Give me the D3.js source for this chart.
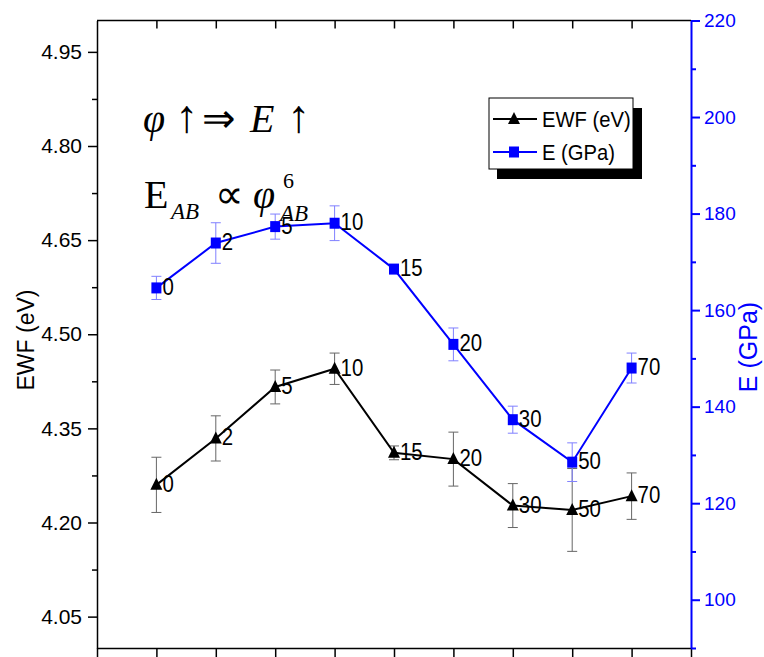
<!DOCTYPE html>
<html>
<head>
<meta charset="utf-8">
<script src="https://cdn.jsdelivr.net/npm/d3@7"></script>
<style>
  body { margin: 0; background: #fff; }
  svg { display: block; }
</style>
</head>
<body>
<svg id="chart" width="764" height="657"></svg>
<script>
const groups = ['0', '2', '5', '10', '15', '20', '30', '50', '70'];
const ewf = [4.260, 4.334, 4.416, 4.445, 4.311, 4.301, 4.227, 4.220, 4.242];
const ewfErr = [0.044, 0.036, 0.027, 0.025, 0.011, 0.043, 0.035, 0.066, 0.037];
const modulus = [164.6, 173.9, 177.3, 178.0, 168.5, 152.9, 137.3, 128.5, 148.0];
const modulusErr = [2.4, 4.2, 2.6, 3.6, 0.4, 3.4, 2.8, 4.0, 3.1];
const ewfTicks = [4.05, 4.20, 4.35, 4.50, 4.65, 4.80, 4.95];
const ewfMinor = [4.125, 4.275, 4.425, 4.575, 4.725, 4.875];
const eTicks = [100, 120, 140, 160, 180, 200, 220];
const eMinor = [90, 110, 130, 150, 170, 190, 210];

const sans = 'Liberation Sans, Arial, sans-serif';
const serif = 'Liberation Serif, Times New Roman, serif';
const blue = '#0000ff';

const svg = d3.select('#chart');

const x = d3.scaleLinear().domain([-1, 9]).range([97, 691]);
const yL = d3.scaleLinear().domain([4.0, 5.0]).range([648, 20.5]);
const yR = d3.scaleLinear().domain([90, 220]).range([648, 20.5]);

const idx = groups.map((_, i) => i);

// frame top
svg.append('line')
  .attr('x1', x(-1)).attr('x2', x(9))
  .attr('y1', yL(5)).attr('y2', yL(5))
  .attr('stroke', '#000').attr('stroke-width', 1.5);

// top inward ticks
svg.append('g')
  .attr('transform', `translate(0,${yL(5)})`)
  .call(d3.axisBottom(x).tickValues(idx).tickSize(8).tickFormat(''))
  .call(g => g.select('.domain').remove())
  .call(g => g.selectAll('line').attr('stroke-width', 1.5));

// bottom axis
svg.append('g')
  .attr('transform', `translate(0,${yL(4)})`)
  .call(d3.axisBottom(x).tickValues(d3.range(-1, 10)).tickSize(9).tickSizeOuter(0).tickFormat(''))
  .call(g => g.selectAll('line, path').attr('stroke-width', 1.5));

// left axis
const left = svg.append('g')
  .attr('transform', `translate(${x(-1)},0)`);
left.call(d3.axisLeft(yL).tickValues(ewfTicks).tickSize(9).tickSizeOuter(0)
    .tickPadding(6).tickFormat(d3.format('.2f')))
  .call(g => g.selectAll('line, path').attr('stroke-width', 1.5))
  .call(g => g.selectAll('text').attr('font-family', sans).attr('font-size', 21).attr('fill', '#000'));
left.append('g')
  .call(d3.axisLeft(yL).tickValues(ewfMinor).tickSize(5).tickFormat(''))
  .call(g => g.select('.domain').remove())
  .call(g => g.selectAll('line').attr('stroke-width', 1.5));

// right axis
const right = svg.append('g')
  .attr('transform', `translate(${x(9)},0)`);
right.call(d3.axisRight(yR).tickValues(eTicks).tickSize(9).tickSizeOuter(0).tickPadding(4))
  .call(g => g.selectAll('line, path').attr('stroke', blue).attr('stroke-width', 2))
  .call(g => g.selectAll('text').attr('font-family', sans).attr('font-size', 19).attr('fill', blue));
right.append('g')
  .call(d3.axisRight(yR).tickValues(eMinor).tickSize(5).tickFormat(''))
  .call(g => g.select('.domain').remove())
  .call(g => g.selectAll('line').attr('stroke', blue).attr('stroke-width', 2));

// axis titles
svg.append('text')
  .attr('transform', 'translate(26,340) rotate(-90)')
  .attr('text-anchor', 'middle').attr('dominant-baseline', 'central')
  .attr('font-family', sans).attr('font-size', 23)
  .text('EWF (eV)');
svg.append('text')
  .attr('transform', 'translate(748,347) rotate(-90)')
  .attr('text-anchor', 'middle').attr('dominant-baseline', 'central')
  .attr('font-family', sans).attr('font-size', 25).attr('fill', blue)
  .text('E (GPa)');

// series
const series = [
  { vals: ewf, err: ewfErr, y: yL, color: '#000', errColor: '#666', shape: 'tri' },
  { vals: modulus, err: modulusErr, y: yR, color: blue, errColor: '#8080ff', shape: 'sq' }
];

const tri = 'M0,-7L6,5L-6,5Z';

series.forEach(s => {
  const g = svg.append('g');
  // error bars
  const eb = g.selectAll('g.err').data(idx).join('g').attr('class', 'err')
    .attr('stroke', s.errColor).attr('stroke-width', 1);
  eb.append('line')
    .attr('x1', i => x(i)).attr('x2', i => x(i))
    .attr('y1', i => s.y(s.vals[i] - s.err[i])).attr('y2', i => s.y(s.vals[i] + s.err[i]));
  eb.append('line')
    .attr('x1', i => x(i) - 5).attr('x2', i => x(i) + 5)
    .attr('y1', i => s.y(s.vals[i] - s.err[i])).attr('y2', i => s.y(s.vals[i] - s.err[i]));
  eb.append('line')
    .attr('x1', i => x(i) - 5).attr('x2', i => x(i) + 5)
    .attr('y1', i => s.y(s.vals[i] + s.err[i])).attr('y2', i => s.y(s.vals[i] + s.err[i]));

  g.append('path')
    .datum(idx)
    .attr('fill', 'none').attr('stroke', s.color).attr('stroke-width', 2)
    .attr('d', d3.line().x(i => x(i)).y(i => s.y(s.vals[i])));

  if (s.shape === 'tri') {
    g.selectAll('path.m').data(idx).join('path').attr('class', 'm')
      .attr('d', tri)
      .attr('transform', i => `translate(${x(i)},${s.y(s.vals[i])})`)
      .attr('fill', s.color);
  } else {
    g.selectAll('rect.m').data(idx).join('rect').attr('class', 'm')
      .attr('x', i => x(i) - 5).attr('y', i => s.y(s.vals[i]) - 5.5)
      .attr('width', 10).attr('height', 11)
      .attr('fill', s.color);
  }

  // point labels, slightly condensed like the original
  g.selectAll('text.lab').data(idx).join('text').attr('class', 'lab')
    .attr('transform', i => `translate(${x(i) + 6},${s.y(s.vals[i]) + 7}) scale(0.85,1)`)
    .attr('font-family', sans).attr('font-size', 24)
    .text(i => groups[i]);
});

// legend
const lg = svg.append('g').attr('transform', 'translate(489,98)');
lg.append('rect').attr('x', 8).attr('y', 10).attr('width', 145).attr('height', 71).attr('fill', '#000');
lg.append('rect').attr('width', 144).attr('height', 71).attr('fill', '#fff').attr('stroke', '#000');
series.forEach((s, k) => {
  const row = lg.append('g').attr('transform', `translate(0,${21 + k * 33})`);
  row.append('line').attr('x1', 4).attr('x2', 48).attr('stroke', s.color).attr('stroke-width', 2);
  if (s.shape === 'tri') {
    row.append('path').attr('d', tri).attr('transform', 'translate(25,0)').attr('fill', s.color);
  } else {
    row.append('rect').attr('x', 20).attr('y', -5.5).attr('width', 10).attr('height', 11).attr('fill', s.color);
  }
  row.append('text')
    .attr('transform', 'translate(53,8) scale(0.92,1)')
    .attr('font-family', sans).attr('font-size', 22)
    .text(k === 0 ? 'EWF (eV)' : 'E (GPa)');
});

// annotations
const ann = svg.append('g').attr('font-family', serif).attr('font-size', 40);
const l1 = ann.append('text').attr('y', 132);
l1.append('tspan').attr('x', 143).attr('font-style', 'italic').text('φ');
l1.append('tspan').attr('x', 175).attr('font-size', 46).text('↑');
l1.append('tspan').attr('x', 202).text('⇒');
l1.append('tspan').attr('x', 250).attr('font-style', 'italic').text('E');
l1.append('tspan').attr('x', 287).attr('font-size', 46).text('↑');

const l2 = ann.append('text').attr('y', 208);
l2.append('tspan').attr('x', 144).text('E');
l2.append('tspan').attr('x', 171).attr('y', 219).attr('font-size', 23).attr('font-style', 'italic').text('AB');
l2.append('tspan').attr('x', 215).attr('y', 208).text('∝');
l2.append('tspan').attr('x', 253).attr('font-style', 'italic').text('φ');
l2.append('tspan').attr('x', 283).attr('y', 188).attr('font-size', 22).text('6');
l2.append('tspan').attr('x', 280).attr('y', 221).attr('font-size', 23).attr('font-style', 'italic').text('AB');
</script>
</body>
</html>
